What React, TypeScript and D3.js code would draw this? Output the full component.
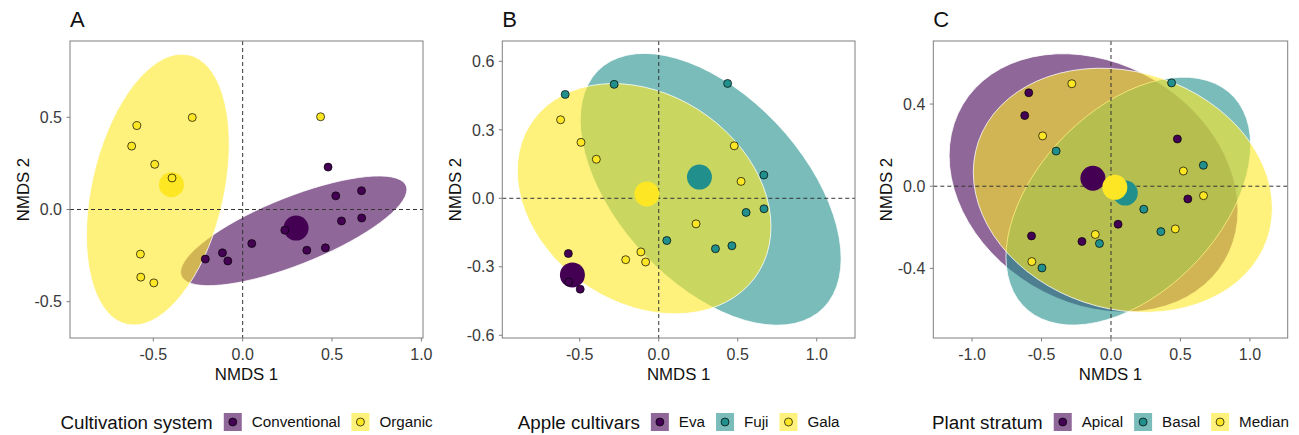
import React from "react";
import * as d3 from "d3";

// ---- Data: NMDS scores of the 21 samples (same ordination in every panel) ----
const nmds1 = [
  -0.572, -0.570, -0.497,
  -0.592, -0.282, 0.436, 0.665, 0.553, 0.666, 0.051, 0.359, 0.463,
  -0.621, -0.492, -0.395, 0.478, 0.521, 0.236, -0.113, -0.209, -0.083,
];
const nmds2 = [
  -0.242, -0.367, -0.398,
  0.455, 0.499, 0.503, 0.102, -0.062, -0.046, -0.185, -0.221, -0.208,
  0.344, 0.245, 0.171, 0.230, 0.074, -0.112, -0.235, -0.269, -0.279,
];
const cultivationSystem = [
  "Organic", "Organic", "Organic",
  "Organic", "Organic", "Organic", "Conventional", "Conventional", "Conventional", "Conventional", "Conventional", "Conventional",
  "Organic", "Organic", "Organic", "Conventional", "Conventional", "Conventional", "Conventional", "Conventional", "Conventional",
];
const appleCultivar = [
  "Eva", "Eva", "Eva",
  "Fuji", "Fuji", "Fuji", "Fuji", "Fuji", "Fuji", "Fuji", "Fuji", "Fuji",
  "Gala", "Gala", "Gala", "Gala", "Gala", "Gala", "Gala", "Gala", "Gala",
];
const plantStratum = [
  "Apical", "Median", "Basal",
  "Apical", "Median", "Basal", "Basal", "Apical", "Median", "Apical", "Basal", "Median",
  "Apical", "Median", "Basal", "Apical", "Median", "Basal", "Median", "Apical", "Basal",
];

const cultivationLevels = ["Conventional", "Organic"];
const cultivarLevels = ["Eva", "Fuji", "Gala"];
const stratumLevels = ["Apical", "Basal", "Median"];

// axis limits and ticks
const xLimitsA = [-0.966, 1.009];
const yLimitsA = [-0.697, 0.914];
const xLimitsB = [-0.99, 1.242];
const yLimitsB = [-0.612, 0.689];
const xLimitsC = [-1.279, 1.272];
const yLimitsC = [-0.739, 0.707];
const xTicksA = [-0.5, 0, 0.5, 1.0];
const yTicksA = [-0.5, 0, 0.5];
const xTicksB = [-0.5, 0, 0.5, 1.0];
const yTicksB = [-0.6, -0.3, 0, 0.3, 0.6];
const xTicksC = [-1.0, -0.5, 0, 0.5, 1.0];
const yTicksC = [-0.4, 0, 0.4];

// confidence level of the t-based ellipses
const ellipseLevel = 0.85;

const viridis2 = ["#440154", "#FDE725"];
const viridis3 = ["#440154", "#21908C", "#FDE725"];

const FONT = "'Liberation Sans', Arial, Helvetica, sans-serif";

// ---- robust t covariance (as MASS::cov.trob) ----
function covTrob(xs: number[], ys: number[], nu = 5, maxit = 25, tol = 0.01) {
  const n = xs.length;
  const p = 2;
  let w = new Array(n).fill(1);
  let loc = [d3.mean(xs)!, d3.mean(ys)!];
  let X: number[][] = [];
  for (let iter = 0; iter < maxit; iter++) {
    const w0 = w.slice();
    X = xs.map((x, i) => [x - loc[0], ys[i] - loc[1]]);
    const sw = d3.sum(w);
    let s11 = 0, s12 = 0, s22 = 0;
    X.forEach((r, i) => {
      const f = w[i] / sw;
      s11 += f * r[0] * r[0];
      s12 += f * r[0] * r[1];
      s22 += f * r[1] * r[1];
    });
    const det = s11 * s22 - s12 * s12;
    const i11 = s22 / det, i12 = -s12 / det, i22 = s11 / det;
    const Q = X.map((r) => r[0] * r[0] * i11 + 2 * r[0] * r[1] * i12 + r[1] * r[1] * i22);
    w = Q.map((q) => (nu + p) / (nu + q));
    const sw2 = d3.sum(w);
    loc = [d3.sum(xs.map((x, i) => w[i] * x)) / sw2, d3.sum(ys.map((y, i) => w[i] * y)) / sw2];
    if (w.every((wi, i) => Math.abs(wi - w0[i]) < tol)) break;
  }
  let c11 = 0, c12 = 0, c22 = 0;
  X.forEach((r, i) => {
    c11 += w[i] * r[0] * r[0];
    c12 += w[i] * r[0] * r[1];
    c22 += w[i] * r[1] * r[1];
  });
  return { center: loc, cov: [c11 / n, c12 / n, c22 / n] };
}

// quantile of F(2, d)
function qf2(p: number, d: number) {
  return (d / 2) * (Math.pow(1 - p, -2 / d) - 1);
}

function ellipsePoints(xs: number[], ys: number[], level: number, segments = 72) {
  const dfd = xs.length - 1;
  if (dfd < 3) return null;
  const { center, cov } = covTrob(xs, ys);
  const r11 = Math.sqrt(cov[0]);
  const r12 = cov[1] / r11;
  const r22 = Math.sqrt(cov[2] - r12 * r12);
  const radius = Math.sqrt(2 * qf2(level, dfd));
  return d3.range(segments).map((k) => {
    const a = (k * 2 * Math.PI) / segments;
    const c = Math.cos(a), s = Math.sin(a);
    return [center[0] + radius * c * r11, center[1] + radius * (c * r12 + s * r22)] as [number, number];
  });
}

let measureCtx: CanvasRenderingContext2D | null = null;
function textWidth(t: string, size: number) {
  if (!measureCtx) measureCtx = document.createElement("canvas").getContext("2d");
  if (!measureCtx) return t.length * size * 0.55;
  measureCtx.font = `${size}px ${FONT}`;
  return measureCtx.measureText(t).width;
}

type PanelDef = {
  letter: string;
  groups: string[];
  levels: string[];
  colors: string[];
  legendTitle: string;
  xLim: number[];
  yLim: number[];
  xTicks: number[];
  yTicks: number[];
  left: number;
  right: number;
};

const TOP = 41;
const BOTTOM = 338;

const panelDefs: PanelDef[] = [
  { letter: "A", groups: cultivationSystem, levels: cultivationLevels, colors: viridis2, legendTitle: "Cultivation system",
    xLim: xLimitsA, yLim: yLimitsA, xTicks: xTicksA, yTicks: yTicksA, left: 70, right: 423 },
  { letter: "B", groups: appleCultivar, levels: cultivarLevels, colors: viridis3, legendTitle: "Apple cultivars",
    xLim: xLimitsB, yLim: yLimitsB, xTicks: xTicksB, yTicks: yTicksB, left: 502.3, right: 855 },
  { letter: "C", groups: plantStratum, levels: stratumLevels, colors: viridis3, legendTitle: "Plant stratum",
    xLim: xLimitsC, yLim: yLimitsC, xTicks: xTicksC, yTicks: yTicksC, left: 933.3, right: 1287.7 },
];

const ALPHA = 0.6;
const fmt = (v: number) => v.toFixed(1);

function Panel({ def, idx }: { def: PanelDef; idx: number }) {
  const x = d3.scaleLinear().domain(def.xLim).range([def.left, def.right]);
  const y = d3.scaleLinear().domain(def.yLim).range([BOTTOM, TOP]);
  const color = d3.scaleOrdinal<string, string>().domain(def.levels).range(def.colors);
  const line = d3.line<[number, number]>().x((d) => x(d[0])).y((d) => y(d[1])).curve(d3.curveLinearClosed);
  const clipId = `clip${idx}`;

  const byGroup = def.levels.map((lv) => {
    const idxs = d3.range(nmds1.length).filter((i) => def.groups[i] === lv);
    const xs = idxs.map((i) => nmds1[i]);
    const ys = idxs.map((i) => nmds2[i]);
    return { lv, xs, ys, ell: ellipsePoints(xs, ys, ellipseLevel), cx: d3.mean(xs)!, cy: d3.mean(ys)! };
  });

  const cxMid = (def.left + def.right) / 2;
  const cyMid = (TOP + BOTTOM) / 2;

  // legend layout
  const titleSize = 18.8;
  const labelSize = 15.2;
  const key = 18;
  const widths = def.levels.map((l) => textWidth(l, labelSize));
  const titleW = textWidth(def.legendTitle, titleSize);
  const total = titleW + d3.sum(widths.map((w) => 11 + key + 10 + w));
  const lx = cxMid - total / 2;
  const legendItems: { kx: number; tx: number; lv: string }[] = [];
  let cur = lx + titleW;
  def.levels.forEach((lv, i) => {
    const kx = cur + 11;
    const tx = kx + key + 10;
    legendItems.push({ kx, tx, lv });
    cur = tx + widths[i];
  });
  const legendCy = 422;

  return (
    <g>
      <defs>
        <clipPath id={clipId}>
          <rect x={def.left} y={TOP} width={def.right - def.left} height={BOTTOM - TOP} />
        </clipPath>
      </defs>
      <g clipPath={`url(#${clipId})`}>
        {byGroup.map((g) =>
          g.ell ? (
            <path key={"e" + g.lv} d={line(g.ell)!} fill={color(g.lv)} fillOpacity={ALPHA}
              stroke="#ffffff" strokeWidth={0.8} />
          ) : null
        )}
        <line x1={x(0)} x2={x(0)} y1={TOP} y2={BOTTOM} stroke="#333" strokeWidth={1} strokeDasharray="4,3" />
        <line x1={def.left} x2={def.right} y1={y(0)} y2={y(0)} stroke="#333" strokeWidth={1} strokeDasharray="4,3" />
        {byGroup.map((g) => (
          <circle key={"c" + g.lv} cx={x(g.cx)} cy={y(g.cy)} r={12.5} fill={color(g.lv)} />
        ))}
        {nmds1.map((v, i) => (
          <circle key={"p" + i} cx={x(v)} cy={y(nmds2[i])} r={4} fill={color(def.groups[i])}
            stroke="#000" strokeWidth={0.7} />
        ))}
      </g>
      <rect x={def.left} y={TOP} width={def.right - def.left} height={BOTTOM - TOP} fill="none"
        stroke="#7f7f7f" strokeWidth={1} />
      {def.xTicks.map((t) => (
        <g key={"xt" + t}>
          <line x1={x(t)} x2={x(t)} y1={BOTTOM} y2={BOTTOM + 3.5} stroke="#7f7f7f" strokeWidth={1} />
          <text x={x(t)} y={BOTTOM + 21.5} textAnchor="middle" fontSize={16} fill="#3a3a3a" fontFamily={FONT}>
            {fmt(t)}
          </text>
        </g>
      ))}
      {def.yTicks.map((t) => (
        <g key={"yt" + t}>
          <line x1={def.left - 3.5} x2={def.left} y1={y(t)} y2={y(t)} stroke="#7f7f7f" strokeWidth={1} />
          <text x={def.left - 8} y={y(t) + 5.7} textAnchor="end" fontSize={16} fill="#3a3a3a" fontFamily={FONT}>
            {fmt(t)}
          </text>
        </g>
      ))}
      <text x={cxMid} y={380} textAnchor="middle" fontSize={16.8} fill="#111" fontFamily={FONT}>NMDS 1</text>
      <text transform={`translate(${def.left - 41},${cyMid}) rotate(-90)`} textAnchor="middle" fontSize={16.8}
        fill="#111" fontFamily={FONT}>NMDS 2</text>
      <text x={def.left} y={26.5} fontSize={22} fill="#111" fontFamily={FONT}>{def.letter}</text>
      {/* legend */}
      <text x={lx} y={legendCy + 6.5} fontSize={titleSize} fill="#111" fontFamily={FONT}>{def.legendTitle}</text>
      {legendItems.map((it) => (
        <g key={"lg" + it.lv}>
          <rect x={it.kx} y={legendCy - key / 2} width={key} height={key} fill={color(it.lv)} fillOpacity={ALPHA} />
          <circle cx={it.kx + key / 2} cy={legendCy} r={4} fill={color(it.lv)} stroke="#000" strokeWidth={0.7} />
          <text x={it.tx} y={legendCy + 5.4} fontSize={labelSize} fill="#111" fontFamily={FONT}>{it.lv}</text>
        </g>
      ))}
    </g>
  );
}

export default function App() {
  return (
    <svg width={1299} height={435} style={{ position: "absolute", left: 0, top: 0, background: "#fff" }}>
      <rect x={0} y={0} width={1299} height={435} fill="#fff" />
      {panelDefs.map((p, i) => (
        <Panel key={p.letter} def={p} idx={i} />
      ))}
    </svg>
  );
}
